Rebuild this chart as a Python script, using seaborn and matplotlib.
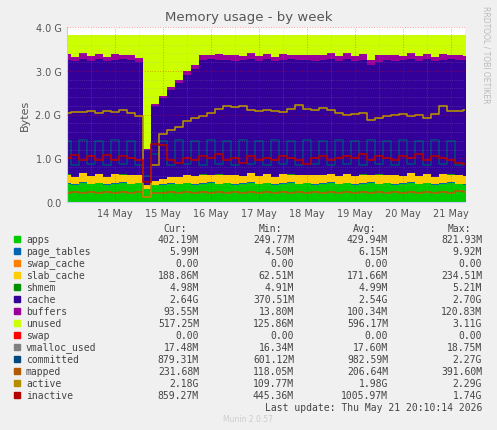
import numpy as np
import pandas as pd
import matplotlib
matplotlib.use("Agg")
import matplotlib.pyplot as plt
import seaborn as sns

# time in days of May, 4-hour steps
days = [13 + i / 6 for i in range(51)]
apps = [0.42,0.40,0.44,0.41,0.43,0.40,0.42,0.44,0.41,0.43,0.30,0.38,0.40,0.42,0.41,0.43,0.40,0.42,
        0.44,0.41,0.43,0.40,0.42,0.44,0.41,0.43,0.40,0.42,0.44,0.41,0.43,0.40,0.42,0.44,0.41,0.43,
        0.40,0.42,0.44,0.41,0.43,0.40,0.42,0.44,0.41,0.43,0.40,0.42,0.44,0.41,0.40]
page_tables = [0.006] * 51
swap_cache = [0.0] * 51
slab_cache = [0.20,0.17,0.21,0.18,0.20,0.17,0.21,0.18,0.20,0.17,0.08,0.10,0.12,0.14,0.15,0.17,0.18,0.20,
              0.17,0.21,0.18,0.20,0.17,0.21,0.18,0.20,0.17,0.21,0.18,0.20,0.17,0.21,0.18,0.20,0.17,0.21,
              0.18,0.20,0.17,0.21,0.18,0.20,0.17,0.21,0.18,0.20,0.17,0.21,0.18,0.20,0.19]
shmem = [0.005] * 51
cache = [2.62,2.64,2.61,2.63,2.62,2.64,2.61,2.63,2.62,2.58,0.80,1.70,1.85,2.00,2.15,2.30,2.45,2.62,
         2.64,2.61,2.63,2.62,2.64,2.61,2.63,2.62,2.64,2.61,2.63,2.62,2.64,2.61,2.63,2.62,2.64,2.61,
         2.63,2.62,2.52,2.58,2.63,2.62,2.64,2.61,2.63,2.62,2.64,2.61,2.63,2.62,2.64]
buffers = [0.13,0.10,0.14,0.11,0.13,0.10,0.14,0.11,0.13,0.10,0.02,0.04,0.05,0.06,0.07,0.08,0.10,0.12,
           0.10,0.14,0.11,0.13,0.10,0.14,0.11,0.13,0.10,0.14,0.11,0.13,0.10,0.14,0.11,0.13,0.10,0.14,
           0.11,0.13,0.10,0.14,0.11,0.13,0.10,0.14,0.11,0.13,0.10,0.14,0.11,0.13,0.09]
total_ram = 3.82
committed = [1.40,0.85,1.42,0.88,1.40,0.85,1.42,0.88,1.40,0.85,0.60,1.10,1.40,0.85,1.42,0.88,1.40,0.85,
             1.42,0.88,1.40,0.85,1.42,0.88,1.40,0.85,1.42,0.88,1.40,0.85,1.42,0.88,1.40,0.85,1.42,0.88,
             1.40,0.85,1.42,0.88,1.40,0.85,1.42,0.88,1.40,0.85,1.42,0.88,1.40,0.85,0.88]
mapped = [0.20,0.23,0.21,0.24,0.20,0.23,0.21,0.24,0.20,0.23,0.12,0.20,0.21,0.24,0.20,0.23,0.21,0.24,
          0.20,0.23,0.21,0.24,0.20,0.23,0.21,0.24,0.20,0.23,0.21,0.24,0.20,0.23,0.21,0.24,0.20,0.23,
          0.21,0.24,0.20,0.23,0.21,0.24,0.20,0.23,0.21,0.24,0.20,0.23,0.21,0.26,0.23]
active = [2.04,2.06,2.05,2.08,2.04,2.07,2.06,2.10,2.04,1.96,0.12,0.85,1.55,1.64,1.72,1.86,1.92,1.97,
          2.04,2.12,2.20,2.17,2.20,2.10,2.07,2.10,2.08,2.06,2.12,2.22,2.12,2.10,2.14,2.10,2.04,2.00,
          2.02,2.04,1.88,1.92,1.97,2.00,2.02,1.97,2.00,1.92,2.02,2.20,2.07,2.08,2.10]
inactive = [1.00,1.07,0.95,1.05,0.97,1.07,0.95,1.05,1.00,0.95,0.45,1.32,1.30,0.95,0.90,1.00,0.95,1.05,
            1.00,1.10,0.95,1.00,0.90,1.05,0.95,1.00,0.95,1.05,1.00,0.95,0.87,1.00,1.05,0.95,1.00,1.05,
            1.00,1.10,0.95,1.05,1.00,0.95,1.05,1.00,1.10,0.95,1.05,1.00,0.95,0.90,0.86]

names = ["apps","page_tables","swap_cache","slab_cache","shmem","cache","buffers","unused",
         "swap","vmalloc_used","committed","mapped","active","inactive"]
colors = ["#00cc00","#0066b3","#ff8000","#ffcc00","#008f00","#330099","#990099","#ccff00",
          "#ff0000","#808080","#00487d","#b35a00","#b38f00","#b30000"]
cur = ["402.19M","5.99M","0.00","188.86M","4.98M","2.64G","93.55M","517.25M","0.00","17.48M","879.31M","231.68M","2.18G","859.27M"]
mn = ["249.77M","4.50M","0.00","62.51M","4.91M","370.51M","13.80M","125.86M","0.00","16.34M","601.12M","118.05M","109.77M","445.36M"]
avg = ["429.94M","6.15M","0.00","171.66M","4.99M","2.54G","100.34M","596.17M","0.00","17.60M","982.59M","206.64M","1.98G","1005.97M"]
mx = ["821.93M","9.92M","0.00","234.51M","5.21M","2.70G","120.83M","3.11G","0.00","18.75M","2.27G","391.60M","2.29G","1.74G"]
xtick_pos = [14, 15, 16, 17, 18, 19, 20, 21]
xtick_lab = ["14 May","15 May","16 May","17 May","18 May","19 May","20 May","21 May"]

sns.set_style("white")
plt.rcParams['font.family'] = ['DejaVu Sans']
fig = plt.figure(figsize=(4.97, 4.31), dpi=100, facecolor="#f0f0f0")
ax = fig.add_axes([67/497, 1-203/431, (465-67)/497, (203-28)/431])
ax.set_facecolor("white")

df = pd.DataFrame(dict(t=days, apps=apps, page_tables=page_tables, swap_cache=swap_cache,
                       slab_cache=slab_cache, shmem=shmem, cache=cache, buffers=buffers))
stack_cols = ["apps","page_tables","swap_cache","slab_cache","shmem","cache","buffers"]
base = np.zeros(len(days))
for c in stack_cols:
    top = base + df[c].values
    ax.fill_between(df.t, base, top, color=colors[names.index(c)], lw=0, step="mid")
    base = top
ax.fill_between(df.t, base, total_ram, color=colors[7], lw=0, step="mid")

for nm, vals in [("committed", committed), ("mapped", mapped), ("active", active), ("inactive", inactive)]:
    sns.lineplot(x=days, y=vals, ax=ax, color=colors[names.index(nm)], lw=1.2, drawstyle="steps-mid")

ax.set_xlim(13.0, 21.3)
ax.set_ylim(0, 4.0)
ax.set_yticks([0, 1, 2, 3, 4])
ax.set_yticklabels(["0.0", "1.0 G", "2.0 G", "3.0 G", "4.0 G"], fontsize=7, color="#555555")
ax.set_xticks(xtick_pos)
ax.set_xticklabels(xtick_lab, fontsize=7, color="#555555")
ax.set_xticks([13 + i / 2 for i in range(17)], minor=True)
ax.set_yticks([i * 0.2 for i in range(21)], minor=True)
ax.grid(True, which="major", color="#ff0000", alpha=0.4, ls=":", lw=0.7)
ax.grid(True, which="minor", color="#aaaaaa", alpha=0.4, ls=":", lw=0.5)
ax.set_axisbelow(False)
ax.tick_params(length=2, pad=2)
for s in ax.spines.values():
    s.set_visible(False)
ax.spines["bottom"].set_visible(True)
ax.spines["left"].set_visible(True)
ax.spines["bottom"].set_color("#ccccff")
ax.spines["left"].set_color("#ccccff")
ax.set_ylabel("Bytes", fontsize=8, color="#555555")

fig.text(0.5, 1-18/431, "Memory usage - by week", ha="center", va="center", fontsize=9.5, color="#555555")
fig.text(486/497, 1-55/431, "RRDTOOL / TOBI OETIKER", rotation=270, ha="center", va="center",
         fontsize=5.5, color="#bbbbbb")

mono = "DejaVu Sans Mono"
fs = 7
ytop = 229
fig.text(187/497, 1-ytop/431, "Cur:", ha="right", va="center", family=mono, fontsize=fs, color="#444444")
fig.text(282/497, 1-ytop/431, "Min:", ha="right", va="center", family=mono, fontsize=fs, color="#444444")
fig.text(376/497, 1-ytop/431, "Avg:", ha="right", va="center", family=mono, fontsize=fs, color="#444444")
fig.text(471/497, 1-ytop/431, "Max:", ha="right", va="center", family=mono, fontsize=fs, color="#444444")
for i, nm in enumerate(names):
    y = 1 - (240 + i * 12) / 431
    fig.patches.append(plt.Rectangle((14/497, y - 3/431), 6/497, 6/431, transform=fig.transFigure,
                                     color=colors[i]))
    fig.text(26/497, y, nm, ha="left", va="center", family=mono, fontsize=fs, color="#444444")
    for x, col in [(199, cur), (294, mn), (388, avg), (482, mx)]:
        fig.text(x/497, y, col[i], ha="right", va="center", family=mono, fontsize=fs, color="#444444")
fig.text(482/497, 1-408/431, "Last update: Thu May 21 20:10:14 2026", ha="right", va="center",
         family=mono, fontsize=fs, color="#444444")
fig.text(248/497, 1-420/431, "Munin 2.0.57", ha="center", va="center", fontsize=5.5, color="#cccccc")

fig.savefig("out.png", dpi=100, facecolor=fig.get_facecolor())
